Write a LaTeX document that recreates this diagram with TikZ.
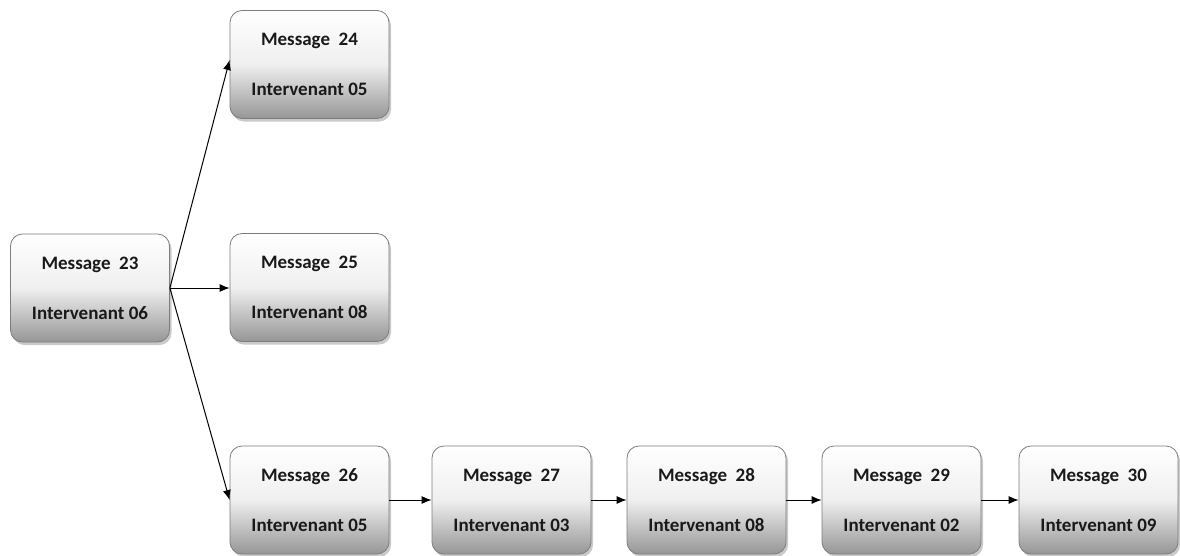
\documentclass[tikz,border=0pt]{standalone}
\usepackage{fontspec}
\setmainfont{Carlito}
\usetikzlibrary{shadows,arrows.meta}
\definecolor{boxborder}{RGB}{125,125,125}
\definecolor{boxbottom}{RGB}{150,150,150}
\begin{document}
\begin{tikzpicture}[x=1pt,y=-1pt,
  msgbox/.style={draw=boxborder, line width=0.8pt, rounded corners=12pt,
    minimum width=159pt, minimum height=108pt, inner sep=0pt,
    top color=white, bottom color=boxbottom, middle color=white!85!boxbottom,
    drop shadow={shadow xshift=2pt, shadow yshift=-3pt, opacity=0.35, fill=black!60},
    align=center, font=\fontsize{19}{25}\selectfont\bfseries, text=black!90},
  conn/.style={-{Latex[length=10pt,width=8pt]}, line width=1pt}]
\useasboundingbox (0,0) rectangle (1180,555);
\node[msgbox] (m23) at (90,288) {Message\ \ 23\\[25pt]Intervenant 06};
\node[msgbox] (m24) at (309.5,64.5) {Message\ \ 24\\[25pt]Intervenant 05};
\node[msgbox] (m25) at (309.5,287.5) {Message\ \ 25\\[25pt]Intervenant 08};
\node[msgbox] (m26) at (309.5,500) {Message\ \ 26\\[25pt]Intervenant 05};
\node[msgbox] (m27) at (511.5,500) {Message\ \ 27\\[25pt]Intervenant 03};
\node[msgbox] (m28) at (706.5,500) {Message\ \ 28\\[25pt]Intervenant 08};
\node[msgbox] (m29) at (901.5,500) {Message\ \ 29\\[25pt]Intervenant 02};
\node[msgbox] (m30) at (1098.5,500) {Message\ \ 30\\[25pt]Intervenant 09};
\coordinate (src) at (m23.east);
\draw[conn] (src) -- (m24.west |- 0,60);
\draw[conn] (src) -- (m25.west |- src);
\draw[conn] (src) -- (m26.west);
\draw[conn] (m26.east) -- (m27.west);
\draw[conn] (m27.east) -- (m28.west);
\draw[conn] (m28.east) -- (m29.west);
\draw[conn] (m29.east) -- (m30.west);
\end{tikzpicture}
\end{document}
